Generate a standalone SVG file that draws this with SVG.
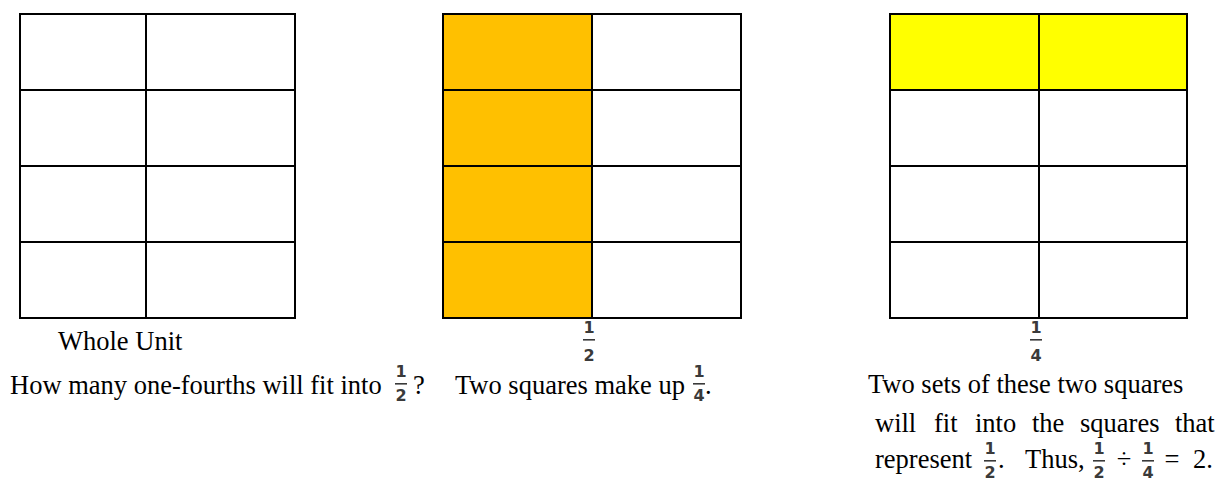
<svg xmlns="http://www.w3.org/2000/svg" width="1217" height="482" viewBox="0 0 1217 482">
<defs>
<style>
.cell{fill:#fff;stroke:#000;stroke-width:2}
.or{fill:#FFC000}
.ye{fill:#FFFF00}
.t{font-family:"Liberation Serif","Times New Roman",serif;font-size:26.5px;fill:#000}
.fr{font-family:"DejaVu Sans",sans-serif;font-weight:bold;font-size:16px;fill:#3a3a3a;text-anchor:middle}
.bar{fill:#3a3a3a}
</style>
</defs>
<rect width="1217" height="482" fill="#fff"/>

<g id="grid-whole">
<rect class="cell" x="20" y="14" width="126" height="76"/>
<rect class="cell" x="146" y="14" width="149" height="76"/>
<rect class="cell" x="20" y="90" width="126" height="76"/>
<rect class="cell" x="146" y="90" width="149" height="76"/>
<rect class="cell" x="20" y="166" width="126" height="76"/>
<rect class="cell" x="146" y="166" width="149" height="76"/>
<rect class="cell" x="20" y="242" width="126" height="76"/>
<rect class="cell" x="146" y="242" width="149" height="76"/>
</g>

<g id="grid-half">
<rect class="cell or" x="443" y="14" width="149" height="76"/>
<rect class="cell" x="592" y="14" width="149" height="76"/>
<rect class="cell or" x="443" y="90" width="149" height="76"/>
<rect class="cell" x="592" y="90" width="149" height="76"/>
<rect class="cell or" x="443" y="166" width="149" height="76"/>
<rect class="cell" x="592" y="166" width="149" height="76"/>
<rect class="cell or" x="443" y="242" width="149" height="76"/>
<rect class="cell" x="592" y="242" width="149" height="76"/>
</g>

<g id="grid-fourth">
<rect class="cell ye" x="890" y="14" width="149" height="76"/>
<rect class="cell ye" x="1039" y="14" width="148" height="76"/>
<rect class="cell" x="890" y="90" width="149" height="76"/>
<rect class="cell" x="1039" y="90" width="148" height="76"/>
<rect class="cell" x="890" y="166" width="149" height="76"/>
<rect class="cell" x="1039" y="166" width="148" height="76"/>
<rect class="cell" x="890" y="242" width="149" height="76"/>
<rect class="cell" x="1039" y="242" width="148" height="76"/>
</g>

<g id="label-half">
<text class="fr" x="589" y="333">1</text>
<rect class="bar" x="583" y="339" width="12" height="1.6"/>
<text class="fr" x="589" y="361">2</text>
</g>
<g id="label-fourth">
<text class="fr" x="1036" y="333">1</text>
<rect class="bar" x="1030" y="339" width="12" height="1.6"/>
<text class="fr" x="1036" y="361">4</text>
</g>

<g id="caption-whole">
<text class="t" x="58" y="350">Whole Unit</text>
</g>

<g id="question">
<text class="t" x="10" y="394">How many one-fourths will fit into</text>
<text class="fr" x="401" y="377">1</text>
<rect class="bar" x="395" y="383" width="12" height="1.6"/>
<text class="fr" x="401" y="401">2</text>
<text class="t" x="413" y="394">?</text>
</g>

<g id="two-squares">
<text class="t" x="455" y="394">Two squares make up</text>
<text class="fr" x="699" y="377">1</text>
<rect class="bar" x="693" y="383" width="12" height="1.6"/>
<text class="fr" x="699" y="401">4</text>
<text class="t" x="705" y="394">.</text>
</g>

<g id="conclusion">
<text class="t" x="868" y="393">Two sets of these two squares</text>
<text class="t" y="432"><tspan x="875">will</tspan><tspan x="934">fit</tspan><tspan x="975">into</tspan><tspan x="1032">the</tspan><tspan x="1080">squares</tspan><tspan x="1175">that</tspan></text>
<text class="t" x="875" y="468">represent</text>
<text class="fr" x="990" y="454">1</text>
<rect class="bar" x="984" y="460" width="12" height="1.6"/>
<text class="fr" x="990" y="478">2</text>
<text class="t" x="998" y="468">.</text>
<text class="t" x="1025" y="468">Thus,</text>
<text class="fr" x="1099" y="454">1</text>
<rect class="bar" x="1093" y="460" width="12" height="1.6"/>
<text class="fr" x="1099" y="478">2</text>
<text class="t" x="1124" y="468" text-anchor="middle">÷</text>
<text class="fr" x="1148" y="454">1</text>
<rect class="bar" x="1142" y="460" width="12" height="1.6"/>
<text class="fr" x="1148" y="478">4</text>
<text class="t" x="1172" y="468" text-anchor="middle">=</text>
<text class="t" x="1193" y="468">2.</text>
</g>
</svg>
